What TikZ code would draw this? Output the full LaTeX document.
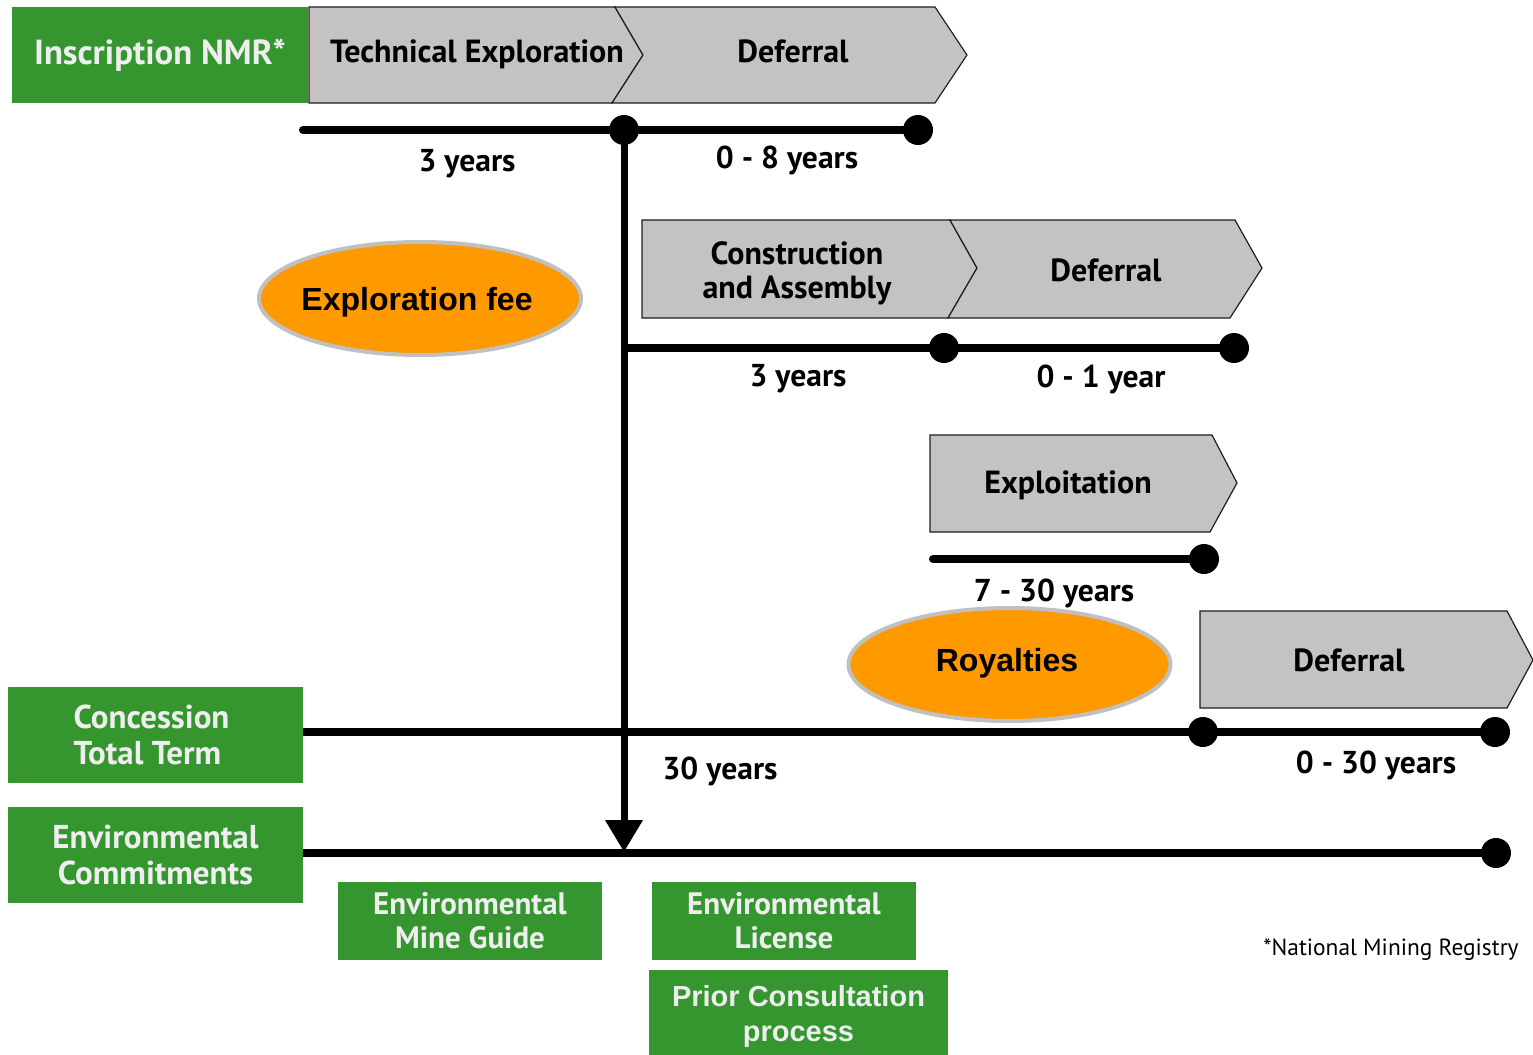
\documentclass[tikz,border=0pt]{standalone}
\usepackage{fontspec}
\setmainfont{PT Sans}
\newfontfamily\arialfont{Liberation Sans}
\usetikzlibrary{arrows.meta,shapes.geometric}
\definecolor{mygreen}{RGB}{53,150,48}
\definecolor{boxtext}{RGB}{238,238,238}
\definecolor{grayfill}{RGB}{196,195,193}
\definecolor{myorange}{RGB}{254,153,0}
\definecolor{ovalgray}{RGB}{192,192,192}
\definecolor{edgegray}{RGB}{30,30,30}
\begin{document}
\begin{tikzpicture}[x=0.5pt,y=-0.5pt,
  greenbox/.style={fill=mygreen, text=boxtext, font=\bfseries\fontsize{16.5}{18}\selectfont, align=center, inner sep=0pt},
  graytxt/.style={font=\bfseries\fontsize{16}{17.5}\selectfont, text=black, align=center, inner sep=0pt},
  chev/.style={fill=grayfill, draw=edgegray, line width=0.6pt, line join=miter},
  lbl/.style={font=\bfseries\fontsize{15.8}{18}\selectfont, inner sep=0pt},
  oval/.style={ellipse, fill=myorange, draw=ovalgray, line width=2pt, inner sep=0pt, minimum width=161pt, minimum height=56.5pt},
  ovaltxt/.style={inner sep=0pt, font=\arialfont\bfseries\fontsize{16}{19}\selectfont},
  dot/.style={circle, fill=black, inner sep=0pt, minimum size=15pt},
  tl/.style={line width=4pt, line cap=round},
  vl/.style={line width=3.5pt}
]
\useasboundingbox (0,0) rectangle (1533,1055);

% ---------- gray chevrons ----------
\path[chev] (309,7) -- (615,7) -- (643,55) -- (612,103) -- (309,103) -- cycle;
\path[chev] (615,7) -- (935,7) -- (967,55) -- (935,103) -- (612,103) -- (643,55) -- cycle;
\node[graytxt] (techexp) at (477,54) {Technical Exploration};
\node[graytxt] (def1) at (793,51) {Deferral};

\path[chev] (642,220) -- (950,220) -- (977,268) -- (948,318) -- (642,318) -- cycle;
\path[chev] (950,220) -- (1235,220) -- (1262,268) -- (1230,318) -- (948,318) -- (977,268) -- cycle;
\node[graytxt] (constr) at (797,273) {Construction\\[-0.5pt]and Assembly};
\node[graytxt] (def2) at (1106,270) {Deferral};

\path[chev] (930,435) -- (1212,435) -- (1237,483) -- (1210,532) -- (930,532) -- cycle;
\node[graytxt] (exploit) at (1068,485) {Exploitation};

\path[chev] (1200,611) -- (1507,611) -- (1533,660) -- (1507,708) -- (1200,708) -- cycle;
\node[graytxt] (def3) at (1349,660) {Deferral};

% ---------- green boxes ----------
\node[greenbox, minimum width=148pt, minimum height=48pt, font=\bfseries\fontsize{17.4}{20}\selectfont] (nmr) at (160,55) {Inscription NMR*};
\node[greenbox, minimum width=147.5pt, minimum height=48pt] (concession) at (155.5,735) {\makebox[0pt]{\hspace{-4pt}Concession}\\\makebox[0pt]{\hspace{-8pt}Total Term}};
\node[greenbox, minimum width=147.5pt, minimum height=48pt] (envcom) at (155.5,855) {Environmental\\Commitments};
\node[greenbox, minimum width=132pt, minimum height=39pt, font=\bfseries\fontsize{15.5}{17}\selectfont] (guide) at (470,921) {Environmental\\Mine Guide};
\node[greenbox, minimum width=132pt, minimum height=39pt, font=\bfseries\fontsize{15.5}{17}\selectfont] (license) at (784,921) {Environmental\\License};
\node[greenbox, minimum width=149.5pt, minimum height=42.5pt] (prior) at (798.5,1012.5) {};
\node[inner sep=0pt, text=boxtext, align=center, font=\arialfont\bfseries\fontsize{14.5}{17.5}\selectfont] (priortxt) at (798.5,1016) {Prior Consultation\\process};

% ---------- ovals ----------
\node[oval] (fee) at (420,298.5) {};
\node[ovaltxt] (feetxt) at (417,302) {Exploration fee};
\node[oval] (royal) at (1009.5,664.5) {};
\node[ovaltxt] (royaltxt) at (1007,663) {Royalties};

% ---------- timelines ----------
\coordinate (t1s) at (303,130);
\node[dot] (d11) at (624,130) {};
\node[dot] (d12) at (918,130) {};
\draw[tl] (t1s) -- (d11.center) -- (d12.center);
\node[lbl] (l11) at (467,164) {3 years};
\node[lbl] (l12) at (787,160) {0 - 8 years};

\coordinate (t2s) at (624,348);
\node[dot] (d21) at (944,348) {};
\node[dot] (d22) at (1234,348) {};
\draw[line width=4pt] (t2s) -- (d21.center);
\draw[line width=4pt] (d21.center) -- (d22.center);
\node[lbl] (l21) at (798,379) {3 years};
\node[lbl] (l22) at (1101,379) {0 - 1 year};

\coordinate (t3s) at (933,559);
\node[dot] (d31) at (1204,559) {};
\draw[tl] (t3s) -- (d31.center);
\node[lbl] (l31) at (1054,593) {7 - 30 years};

\coordinate (t4s) at (303,732);
\node[dot] (d41) at (1203,732) {};
\node[dot] (d42) at (1495,732) {};
\draw[line width=4pt] (t4s) -- (d41.center) -- (d42.center);
\node[lbl] (l41) at (720,771) {30 years};
\node[lbl] (l42) at (1376,765) {0 - 30 years};

\coordinate (t5s) at (303,853);
\node[dot] (d51) at (1496,853) {};
\draw[line width=4pt] (t5s) -- (d51.center);

% ---------- vertical arrow ----------
\coordinate (arrowend) at (624,852);
\draw[vl, -{Triangle[length=16pt, width=18pt]}] (d11.center) -- (arrowend);

% ---------- footnote ----------
\node[anchor=east, inner sep=0pt, font=\fontsize{11.7}{14}\selectfont] (foot) at (1519,950) {*National Mining Registry};
\end{tikzpicture}
\end{document}
